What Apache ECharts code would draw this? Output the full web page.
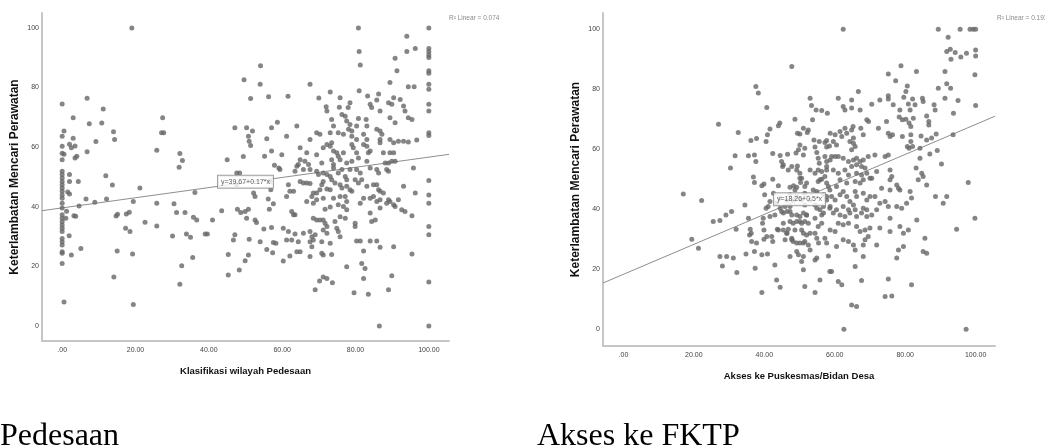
<!DOCTYPE html>
<html>
<head>
<meta charset="utf-8">
<script src="https://cdn.jsdelivr.net/npm/echarts@6/dist/echarts.min.js"></script>
<style>
  html, body { margin: 0; padding: 0; background: #fff; }
  #wrap { position: relative; width: 1045px; height: 447px; overflow: hidden; }
  #chart { position: absolute; left: 0; top: 0; width: 1045px; height: 447px; }
  .caption { position: absolute; font-family: 'Liberation Serif', 'Times New Roman', serif; font-size: 32px; line-height: 32px; color: #000; white-space: nowrap; }
</style>
</head>
<body>
<div id="wrap">
  <div id="chart"></div>
  <div class="caption" style="left:0px; top:418px">Pedesaan</div>
  <div class="caption" style="left:537px; top:418px">Akses ke FKTP</div>
</div>
<script>
// tick labels shared by both panels
const xTickValues = [0, 20, 40, 60, 80, 100]
const xTickLabels = ['.00', '20.00', '40.00', '60.00', '80.00', '100.00']
const yTickValues = [0, 20, 40, 60, 80, 100]
const yTitle = 'Keterlambatan Mencari Perawatan'

// left panel
const pedesaanTitle = 'Klasifikasi wilayah Pedesaan'
const pedesaanR2 = 'R² Linear = 0.074'
const pedesaanEquation = 'y=39.67+0.17*x'
const pedesaanEqAt = [50, 48.4]
const pedesaanFit = [[-5.5, 38.7], [105.5, 57.6]]
const pedesaanPoints = [
  [19,100],[0,74.5],[6.8,76.4],[3,69.9],[7.4,67.9],[10.8,68.1],[11.2,72.8],[0.5,65.4],[0,63.7],[3,63],[9.2,61.9],[6.8,58.5],[14,65.2],[14.3,62.6],[2,61],[2.5,59.8],[3.5,60.4],[0,60.3],[0,58],[0.5,57.6],[4,57],[3.5,56.4],[0,55.8],[0,51.9],[0,50.8],[0,49.7],[0,48.5],[0,47.4],[0,46.3],[0,45.2],[0,44],[0,42.9],[1.5,45],[2,44.3],[2,50.8],[2,48.5],[4.4,48.5],[11.9,50.4],[13.7,47.3],[21.2,46.3],[6.5,42.6],[12.1,42.6],[27.4,69.9],[27.1,64.8],[27.7,64.8],[25.8,59],[32.1,57.9],[32.8,55.5],[31.9,53.3],[36.2,44.8],[45,55.8],[47.1,66.5],[47.6,47.4],[47.6,51.3],[48.4,51.3],[49.6,82.6],[50.3,66.5],[51.4,76.3],[50.8,63.7],[51,62],[51.4,60.6],[51.9,65.4],[49.4,56.9],[52.2,44.6],[52.6,43.5],[54.1,87.3],[54,81.1],[56.3,76.9],[58.7,68.4],[57.1,66.5],[55.2,57],[57.1,58.7],[55.8,62.8],[57.9,53.9],[59.1,53],[56.7,48.5],[56.9,45.7],[56.2,42.6],
  [61.6,77.1],[67.6,81.1],[70,76.5],[73.1,78.5],[72,73.6],[75.8,76.6],[75.6,73.4],[78.5,74.9],[78,73.3],[80.8,100],[81,92.1],[81.3,87.6],[81,78.9],[83.3,77.2],[84,74.4],[84.4,73.3],[85.8,75.8],[86.3,77.8],[89.4,81.7],[90.8,89.8],[91.3,85.6],[89,74.9],[89.9,74.4],[90.4,76.6],[92.2,76],[93.1,73.8],[94,97.2],[94,92.1],[96.3,93.1],[94.4,80.3],[96,80.3],[100,100],[100,93.1],[100,92],[100,90.9],[100,90.1],[100,85.6],[100,84.8],[100,81.1],[100,79.4],[100,74.4],
  [0,41.2],[0,39.6],[0,37.3],[0,36.2],[0,35],[0,33.9],[0,32.8],[0,31.7],[0,29.4],[0,28.3],[0,27.2],[0,24.9],[0,24.4],[0,21],[0.5,8.1],[1,36.2],[1.2,38.5],[1.9,30.3],[2.5,23.8],[3.2,37],[3.7,36.8],[4.6,40.3],[5.1,26],[8.9,41.5],[14.1,16.5],[14.7,36.9],[15.1,37.5],[15,25.2],[17.5,37.6],[18.3,38.2],[17.3,32.8],[18.5,31.7],[19.2,24.2],[19.4,7.2],[19.4,41.8],[22.6,34.8],[25.8,33.6],[25.8,41.2],[30.1,30.2],[30.5,41],[31.2,38.1],[33.5,38.1],[32.1,14],[32.6,20.2],[33.9,30.9],[35,29.8],[35.6,23],[35.8,36.5],[36.7,35.6],[39,30.9],[39.6,30.9],[41,35.6],[43.5,38.7],[45.3,24],[45.3,17.1],[46.7,28.9],[47.1,30.6],[47.8,39.2],[48.7,38.1],[49.9,38.4],[50.8,39.2],[50.3,36.2],[48.3,18.8],[49.9,21.9],[50.8,23.8],[51,29.1],[52.6,35.6],[53,34.7],[54,28.3],[55,32.6],[55.8,25.7],[56.5,39.2],[57.1,33.1],[57.4,24.6],[57.6,28],[58.3,27.8],[57.6,41],
  [69,12.2],[70.2,15.1],[73.7,14.5],[79.6,11.2],[83.5,10.7],[86.5,0],[89,12.2],[100,14.8],[100,0],
  [72.2,72.1],[73.5,69.3],[74,67.1],[76.3,71],[77.2,70.4],[77.6,68.8],[78.5,67.6],[78.1,66],[79,65.4],[80.8,69.6],[80.3,67.1],[82.9,69.3],[83.1,67.1],[86.7,72.1],[89.4,69.9],[90.8,68.2],[93.5,72.1],[94.4,69.9],[95.4,69.3],[100,72.1],[64,67.1],[61.2,63.7],[85.8,66],[86.7,65.4],[87.2,64.3],[86.7,62.6],[69.4,64.8],[70.3,64.3],[73.1,64.8],[75.3,64.8],[76.7,64.3],[79,63.7],[80.3,62.6],[82.2,64.3],[83.1,62.6],[89.4,62.6],[90.4,61.5],[91.7,62],[93.1,62],[94.4,61.7],[96.7,62.4],[100,64.8],[100,63.9],[67.6,62.6],
  [72.2,60.9],[73.1,60.3],[73.5,61.5],[79,60.9],[79.4,59.8],[82.2,60.9],[83.1,60.3],[86.7,61.5],[64.9,59.8],[66.7,58.1],[69.4,57.5],[71.2,59.8],[74,58.7],[74.9,58.1],[75.3,57],[75.8,55.8],[76.7,58.1],[80.3,58.1],[83.5,58.1],[84,58.7],[87.6,58.1],[89.4,58.1],[90.4,58.1],[59.9,57.5],[64.9,55.8],[66.2,55.3],[64.4,54.2],[64,53.6],[67.2,54.2],[70.8,54.7],[73.5,55.8],[74,54.2],[77.6,54.7],[79,55.3],[80.8,56.4],[83.1,55.3],[84,53],[85.8,52.5],[86.3,51.3],[88.1,54.7],[89,54.7],[89.9,55.3],[90.8,55.3],[88.5,52.5],[89,51.9],[95.8,53],
  [59.4,52.5],[63.5,51.9],[65.8,52.5],[67.6,52.5],[69.4,51.9],[69.9,50.8],[71.2,51.3],[72.2,50.8],[73.1,50.2],[74,53],[75.3,51.3],[76.3,52.5],[77.2,50.2],[77.6,49.1],[78.5,52.5],[80.3,52.5],[81.3,51.3],[81.7,49.1],[79.9,49.1],[80.8,48],[73.5,49.1],[71.2,48.5],[70.8,47.4],[64.9,48.5],[65.8,48],[66.7,48],[67.6,47.8],[61.7,47.4],[62.1,45.2],[63.1,45.2],[61.2,43.5],[68.5,44.6],[69.4,44.6],[70.3,45.7],[72.2,46],[73.1,45.7],[74.4,48],[75.8,47.4],[76.3,46.3],[77.6,46.9],[78.5,45.7],[79,45.2],[83.1,46.9],[84.9,47.4],[85.8,47.4],[86.3,45.7],[86.7,45.2],[87.6,44.6],[93.1,46.9],[100,48.8],[96.3,44.6],[100,44],[100,41.2],
  [66.7,41.8],[68.1,43.5],[68.5,41.2],[69.4,42.4],[71.2,42.9],[74,42.9],[75.8,43.5],[77.2,43.5],[77.6,41.8],[76.7,40.1],[77.6,39],[81.3,41.2],[82.2,42.9],[84,42.9],[84.9,43.5],[85.8,41.8],[86.7,42.4],[88.5,41.2],[89,42.4],[89.4,41.8],[90.4,40.7],[90.8,40.1],[91.7,42.4],[92.6,39],[93.5,38.4],[86.7,39.6],[71.7,39.2],[73.1,39.9],[75.3,40.7],[62.6,38.4],[63.1,37.3],[63.5,37.3],[68.5,36.2],[69.4,35.6],[70.3,35.6],[71.2,35.6],[71.7,34.5],[72.2,33.4],[74.4,35.1],[75.8,36.7],[77.2,36.2],[79.9,34.5],[79.9,33.4],[84,37.9],[84.4,35.1],[85.4,35.6],[95.4,37],
  [60.3,32.8],[61.7,31.7],[63.5,30.9],[65.8,31.1],[67.6,31.7],[68.1,30],[69,30.6],[71.2,32.2],[72.2,31.1],[74.9,32.8],[75.3,31.7],[75.8,30],[61.2,28.9],[62.6,28.9],[64.4,28.3],[67.6,28.3],[68.5,28.9],[68.1,26.6],[70.8,28.3],[73.1,27.8],[80.3,28.5],[81.3,28.5],[84,28.5],[85.8,28.5],[86.7,26.4],[90.4,26.6],[100,33.4],[100,30.6],[62.1,23.5],[64,24.9],[64.9,24.9],[67.6,23.3],[70.8,24.4],[71.2,23.8],[73.5,24],[82.2,25.2],[95.4,24.2],[60.3,21.8],[81.7,21],[77.6,19.9],[82.6,19.3],[71.2,16.5],[72.2,16],[82.2,16],[89.9,16.9]
]

// right panel
const aksesTitle = 'Akses ke Puskesmas/Bidan Desa'
const aksesR2 = 'R² Linear = 0.193'
const aksesEquation = 'y=18.26+0.5*x'
const aksesEqAt = [50, 43.3]
const aksesFit = [[-5.8, 15.4], [105.5, 71]]
const aksesPoints = [
  [47.8,87.6],[37.6,80.9],[38.3,78.7],[40.7,73.9],[27,68.3],[32.6,65.6],[36.2,62.9],[37.8,63.6],[40.5,62.6],[40.9,64.8],[41.6,66.7],[44,67.8],[44.4,68.7],[31.7,57.8],[35.5,57.8],[37.2,58.1],[37.6,55.9],[30.4,53.7],[42.4,58.6],[44.5,57.9],[46.6,58.3],[44.9,55.9],[45.2,54.2],[47.8,54.2],[49.4,54.4],[49,58.7],[49.7,59.8],[50.1,61.4],[49.4,65.3],[50.1,65.1],[48.7,70],[51.1,67],[52.5,66.4],[52.2,65.6],[53,77],[53.4,74.6],[54.7,73.1],[56.3,72.9],[57.9,72],[53.7,69.8],[51.5,60.3],[51.1,58.1],[54.1,63.1],[55.6,62.6],[57.2,62.2],[54.4,60.7],[54.9,58.9],[57.7,60.7],[58.5,61.1],[55.3,57],[55.6,55.3],[57.2,57.6],[57.7,55.9],[57.7,62.9],[53,53.1],[54.4,52],[56.3,52.6],[57.7,53.1],[50.1,52],[50.6,50.3],[50.3,48.9],[36.9,50.7],[37.2,48.9],[39.3,47.8],[39.9,48.4],[42.4,50],[44,47.8],[47.3,47.3],[48.3,47.8],[49.2,47.3],[51.5,47.6],[55.3,49.2],[56.3,50],[57.7,48.7],
  [17,45.1],[22.2,42.9],[34.5,41.4],[30.7,39.2],[29.1,38.1],[27.4,36.2],[25.5,35.9],[19.4,30],[21.3,27],[32,33.3],[35.5,37],[36,33.3],[36.3,32],[35.8,31.4],[36.4,29.2],[37.8,28.7],[27.4,24.2],[29.3,24.2],[31.2,23.7],[28.1,21.1],[32.2,18.9],[34.8,25.1],[37.2,25.9],[37.4,20.3],[39.3,24.8],[40.9,25.1],[39.7,37],[39.5,35.3],[39.9,33.1],[40.7,30.9],[42.1,30.9],[41.6,37.6],[41.1,40.9],[43,38.1],[39.9,30],[42.4,29.2],[43,21.4],[43.5,16.4],[44.5,14],[39.3,12.2],[43.7,33.3],[45.4,33.1],[46.8,33.3],[47.3,35.9],[47.8,38.1],[47.3,39.2],[46.4,39.2],[45.9,40.9],[44.5,40.3],[44.9,39.2],[45.4,38.7],[48.2,35.3],[49.2,35.9],[50.1,37.6],[50.6,35.3],[51.5,35.9],[52,38.1],[51.1,38.7],[47.8,30.3],[48.2,29.2],[49.2,28.7],[50.1,28.7],[45.9,29.8],[46.4,32],[47.3,24.2],[49.2,25.9],[49.7,24.8],[51.1,32],[52,31.4],[51.5,29.2],[52.5,28.1],[50.6,22.6],[51.1,24.2],[51.1,19.8],[51.5,14.2],[54.4,12.2],[54.4,32],[54.9,30.3],[55.4,28.7],[54.9,23.7],[54.4,23.1],[56.3,35.3],[57.2,30.3],[57.7,28.7],[58.2,24.4],[55.8,16.4],[58.6,19.2],[53,43.1],[54.4,41.4],[55.8,39.8],[56.8,38.7],[57.7,43.1],[58.6,40.3],[49.2,44.2],[50.6,43.1],[51.5,41.4],[48.2,43.1],[46.4,42.9],[43.5,42],[44.5,43.7],[41.6,42.6],[40.5,40.3],[42.6,45.3],[40.1,44.8],[47.3,44.8],[48.7,46.4],[51.5,45.3],[54.9,45.9],[56.8,44.8],[58.6,46.4],
  [49.2,38.1],[50.1,35.9],[50.6,33.1],[48.7,33.1],[47.8,29.8],[52,38.1],[52.5,35.3],[53,32],[54.4,37],[54.9,40.3],[55.3,34.2],[56.3,38.1],[56.8,40.9],[57.7,44.2],[58.2,47.6],[57.2,50.9],[57.7,54.2],[58.7,56.4],[55.3,53.1],[55.8,49.8],[53.9,46.4],[52,48.7],[50.1,50.3],[49.2,53.1],[46.8,53.1],[45.4,54.8],[47.3,40.9],[45.4,35.3],[44,33.1],[46.4,32],[51.1,28.7],[53,26.4],
  [62.4,100],[89.4,100],[95.6,100],[98.4,100],[99.3,100],[100,100],[92.2,97.3],[91.8,92.6],[92.8,93.3],[94.2,92.2],[95.8,90.7],[97.4,92],[93,90],[100,93.1],[100,91.1],[99.8,84.8],[91.3,85.9],[91.8,81.8],[92.9,80.3],[89.4,80.3],[91.3,77],[95,76.2],[100,74.6],[93.7,72],[78.8,87.8],[75.2,85.1],[83.2,85.9],[77.3,82.8],[80.6,81.1],[80.2,79.2],[79.6,77.3],[82.1,76.7],[82.8,74.8],[75.2,77.8],[75.2,76.7],[72.8,76.4],[76.6,74.8],[78.5,73.1],[80.9,75.1],[81.4,73.1],[84.9,77],[85.1,75.9],[88.2,74.8],[88.5,73.1],[86.1,71.1],[86.7,69.2],[86.7,68.1],[78.3,70.7],[79.2,69.8],[80.2,70],[81.1,68.7],[81.6,67.6],[82.3,70.3],[74.7,69.2],[75.2,65.3],[75.7,64.2],[76.4,64.8],[72.4,67],[79.2,64.2],[81.6,64.8],[81.6,62.6],[80.6,60.9],[81.1,60.3],[82.1,60.9],[84.5,64.4],[86.1,63.1],[87.5,63.7],[88.8,65.1],[93.6,64.8],[66.7,79.2],[64.8,76.4],[61,77],[62.4,74.2],[62.9,73.1],[67.2,73.1],[64.8,73.7],[70.5,75],[69.1,69.8],[69.6,69.2],[67.4,67],[65.2,67.6],[64.8,66.4],
  [58.7,65.3],[60.1,64.8],[61.5,65.9],[62.9,67],[63.4,65.3],[62,64.2],[65.3,63.7],[64.3,62.6],[65.3,62],[65.8,60.9],[64.8,59.8],[59.6,62.6],[60.5,61.4],[68.1,64.8],
  [59.1,57.6],[60.1,57.6],[61,57.6],[62.4,57],[63.9,55.9],[65.3,56.4],[66.2,57],[67.2,55.9],[68.1,56.4],[69.5,57.6],[71.4,58.1],[74.3,57.6],[75.2,58.1],[64.8,54.2],[66.2,54.8],[67.6,54.2],[68.6,53.7],
  [59.6,53.1],[61,52],[62.9,53.1],[63.9,51.4],[66.2,52],[67.6,51.4],[69.1,52],[70.5,50.3],[71.9,52.6],[75.7,53.1],[61.5,49.8],[63.4,48.7],[65.8,49.2],[67.2,48.7],[68.1,49.8],[70,50.3],[60.5,47.6],
  [59.1,44.2],[60.1,43.1],[61.5,44.8],[62.4,45.9],[63.4,44.2],[64.3,42.6],[65.8,45.9],[66.2,44.2],[68.1,45.3],[69.1,43.1],[70,44.2],[71.4,44.2],[72.8,42],[74.3,42.6],[75.7,46.4],[78.5,46.4],[76.2,50.9],[77.6,48.1],[81.4,45.9],[83.7,49.8],[84.7,52],[85.1,50.9],[86.1,48.1],[58.7,40.9],[60.5,39.8],[62.4,40.9],[63.9,39.8],[65.3,41.4],[65.8,39.8],[68.1,40.3],[69.1,39.8],[71.9,39.8],[75.2,40.9],
  [59.6,38.7],[61.5,38.1],[62.9,37.6],[64.3,38.7],[66.2,37.6],[67.6,38.7],[69.1,37.6],[70.5,38.1],[61,35.3],[62.4,34.8],[63.9,35.3],[66.2,34.2],[67.2,32.6],[68.6,33.1],[70,33.7],[72.8,33.7],[75.7,37],[75.7,32.6],[78.5,34.2],[79.5,32],[80.9,33.1],[83.3,36.4],[58.7,33.1],[60.1,32.6],
  [62.4,29.8],[63.9,29.2],[65.3,28.1],[68.1,28.1],[68.6,29.8],[69.5,30.9],[71.9,28.1],[60.5,27.6],[65.8,26.4],[68.1,24.2],[77.6,23.7],[78.1,26.4],[79.5,27.6],[85.6,30.3],[85.1,25.9],[86.1,25.3],
  [65.8,20.9],[59.1,19.2],[61,15.9],[62,14.8],[67.6,16.2],[75.2,16.7],[81.8,14.8],[74.3,10.9],[76.2,11.1],[64.8,8.1],[66.2,7.6],
  [88.6,44.2],[91.8,44.2],[90.8,42],[97.9,48.9],[99.8,37],[94.6,33.3],[83.1,53.7],[84.2,57],[87,58.4],[89.1,59.6],[90.3,55.1],[84.2,60.3],[73.3,47],[75.7,49.8],[78.1,47],[80.4,42],[81.8,43.7],[77.6,40.9],[79,40.3],
  [62.6,0],[97.3,0]
]

const SANS = "'Liberation Sans', Arial, sans-serif"
const axisLineStyle = { color: '#c6c6c6', width: 2 }
const dotColor = '#666666'

function xAxisFor(gridIndex, min, max, title) {
    return {
        type: 'value',
        gridIndex: gridIndex,
        min: min,
        max: max,
        name: title,
        nameLocation: 'middle',
        nameGap: 25,
        nameTextStyle: { fontFamily: SANS, fontWeight: 'bold', fontSize: 9.5, color: '#111' },
        axisLine: { show: true, onZero: false, lineStyle: axisLineStyle },
        axisTick: { show: false },
        splitLine: { show: false },
        axisLabel: {
            customValues: xTickValues,
            formatter: (v) => xTickLabels[xTickValues.indexOf(v)],
            fontFamily: SANS,
            fontSize: 7,
            color: '#444',
            margin: 6,
        },
    }
}

function yAxisFor(gridIndex, min, max) {
    return {
        type: 'value',
        gridIndex: gridIndex,
        min: min,
        max: max,
        name: yTitle,
        nameLocation: 'middle',
        nameGap: 21,
        nameRotate: 90,
        nameTextStyle: { fontFamily: SANS, fontWeight: 'bold', fontSize: 12, color: '#111' },
        axisLine: { show: true, onZero: false, lineStyle: axisLineStyle },
        axisTick: { show: false },
        splitLine: { show: false },
        axisLabel: {
            customValues: yTickValues,
            fontFamily: SANS,
            fontSize: 7,
            color: '#444',
            margin: 3,
        },
    }
}

function panelSeries(index, points, fit, eqAt, equation) {
    return [
        {
            type: 'line',
            xAxisIndex: index,
            yAxisIndex: index,
            data: fit,
            symbol: 'none',
            silent: true,
            lineStyle: { color: '#8e8e8e', width: 1 },
            z: 1,
        },
        {
            type: 'scatter',
            xAxisIndex: index,
            yAxisIndex: index,
            data: points,
            symbolSize: 5,
            itemStyle: { color: dotColor },
            z: 2,
        },
        {
            type: 'scatter',
            xAxisIndex: index,
            yAxisIndex: index,
            data: [eqAt],
            symbolSize: 1,
            silent: true,
            itemStyle: { color: 'rgba(0,0,0,0)' },
            label: {
                show: true,
                position: 'inside',
                formatter: equation,
                fontFamily: SANS,
                fontSize: 7,
                color: '#333',
                backgroundColor: '#fff',
                borderColor: '#8a8a8a',
                borderWidth: 1,
                padding: [3, 3, 2, 3],
            },
            z: 5,
        },
    ]
}

const chart = echarts.init(document.getElementById('chart'), null, { renderer: 'canvas' })

chart.setOption({
    animation: false,
    backgroundColor: '#fff',
    grid: [
        { left: 42, top: 13, width: 407, height: 328 },
        { left: 603, top: 13, width: 392, height: 333 },
    ],
    xAxis: [
        xAxisFor(0, -5.5, 105.5, pedesaanTitle),
        xAxisFor(1, -5.8, 105.5, aksesTitle),
    ],
    yAxis: [
        yAxisFor(0, -5, 105),
        yAxisFor(1, -5.6, 105.4),
    ],
    graphic: [
        { type: 'text', left: 449, top: 15, style: { text: pedesaanR2, font: '6.5px ' + SANS, fill: '#8a8a8a' } },
        { type: 'text', left: 997, top: 15, style: { text: aksesR2, font: '6.5px ' + SANS, fill: '#8a8a8a' } },
    ],
    series: [
        ...panelSeries(0, pedesaanPoints, pedesaanFit, pedesaanEqAt, pedesaanEquation),
        ...panelSeries(1, aksesPoints, aksesFit, aksesEqAt, aksesEquation),
    ],
})
</script>
</body>
</html>
